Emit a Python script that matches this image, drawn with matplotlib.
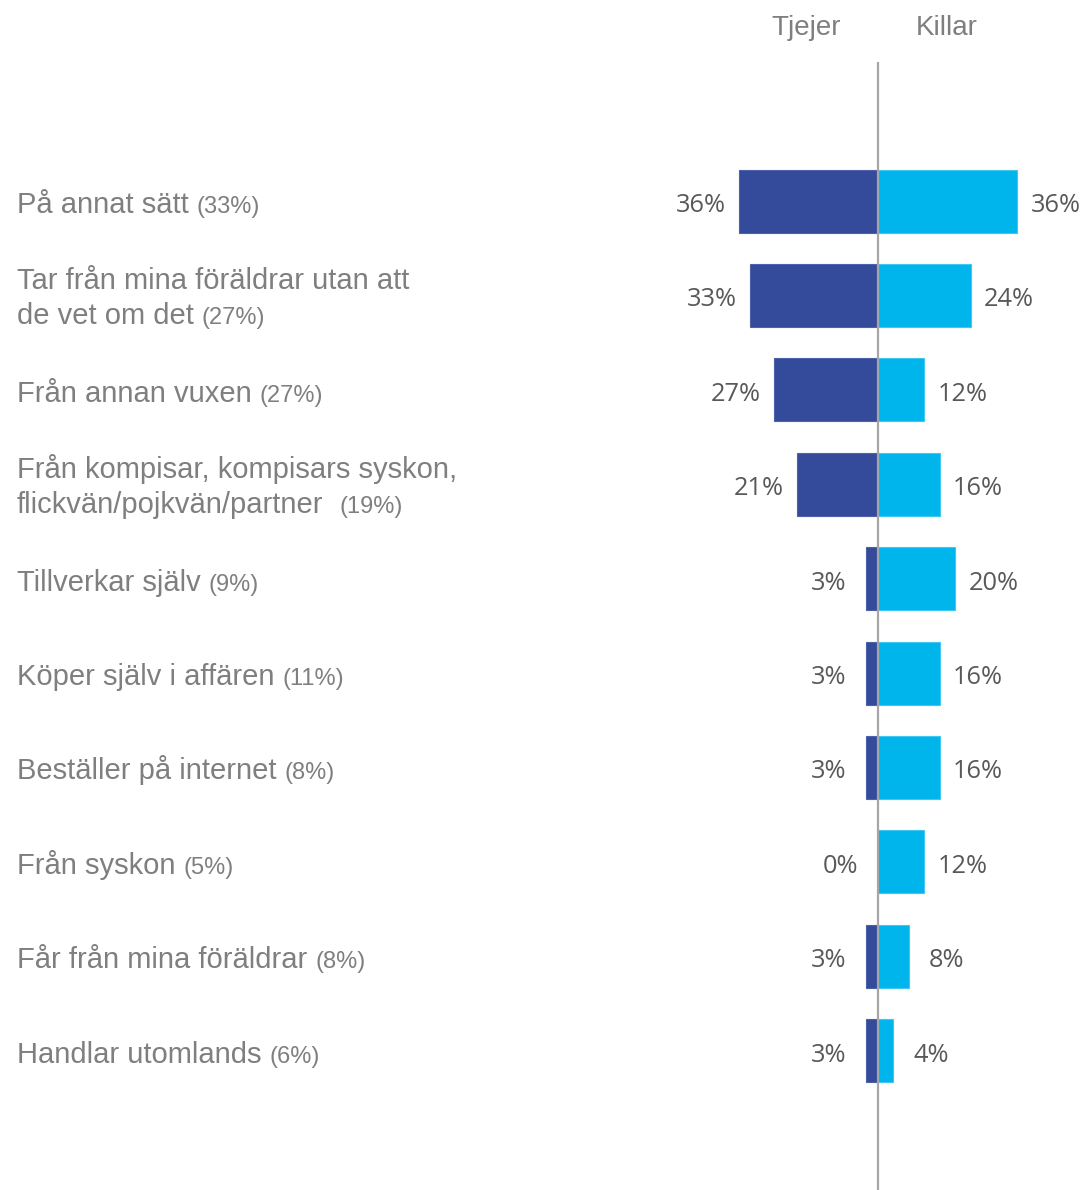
import matplotlib.pyplot as plt
from matplotlib import transforms

# data
categories = [
    "På annat sätt",
    "Tar från mina föräldrar utan att\nde vet om det",
    "Från annan vuxen",
    "Från kompisar, kompisars syskon,\nflickvän/pojkvän/partner ",
    "Tillverkar själv",
    "Köper själv i affären",
    "Beställer på internet",
    "Från syskon",
    "Får från mina föräldrar",
    "Handlar utomlands",
]
totals = ["(33%)", "(27%)", "(27%)", "(19%)", "(9%)", "(11%)", "(8%)", "(5%)", "(8%)", "(6%)"]
tjejer = [36, 33, 27, 21, 3, 3, 3, 0, 3, 3]
killar = [36, 24, 12, 16, 20, 16, 16, 12, 8, 4]
series_names = ["Tjejer", "Killar"]

W, H = 1086, 1190
DPI = 100
PX_PER_PCT = 3.87
CENTER_X = 878
ROW0_Y = 201
ROW_STEP = 94.4

dark = "#344A9A"
light = "#00B4EC"
gray_txt = "#7F7F7F"
val_txt = "#595959"

fig = plt.figure(figsize=(W / DPI, H / DPI), dpi=DPI)
ax_left = 560
ax = fig.add_axes([ax_left / W, 0, (W - ax_left) / W, 1])
ax.set_xlim(-(CENTER_X - ax_left) / PX_PER_PCT, (W - CENTER_X) / PX_PER_PCT)
ax.set_ylim((H - ROW0_Y) / ROW_STEP, -ROW0_Y / ROW_STEP)
ax.axis("off")

rows = list(range(len(categories)))
bh = 63 / ROW_STEP
ax.barh(rows, [-v for v in tjejer], height=bh, color=dark, edgecolor="#4d62ab", linewidth=0.8)
ax.barh(rows, killar, height=bh, color=light, edgecolor="#40c8f2", linewidth=0.8)

# center line
ax.plot([0, 0], [-(ROW0_Y - 62) / ROW_STEP, (H - ROW0_Y) / ROW_STEP],
        color="#A6A6A6", lw=1.6, solid_capstyle="butt", zorder=3)

def px_off(dx, dy):
    return transforms.ScaledTranslation(dx / DPI, -dy / DPI, fig.dpi_scale_trans)

lab_off = 38 / PX_PER_PCT
for i in rows:
    ax.text(-tjejer[i] - lab_off, i, f"{tjejer[i]}%", ha="center", va="baseline",
            fontsize=18.3, family="Open Sans", color=val_txt,
            transform=ax.transData + px_off(0, 11))
    ax.text(killar[i] + lab_off, i, f"{killar[i]}%", ha="center", va="baseline",
            fontsize=18.3, family="Open Sans", color=val_txt,
            transform=ax.transData + px_off(0, 11))

# category labels
fig.canvas.draw()
renderer = fig.canvas.get_renderer()
blend = transforms.blended_transform_factory(fig.transFigure, ax.transData)
for i, (cat, tot) in enumerate(zip(categories, totals)):
    lines = cat.split("\n")
    if len(lines) == 1:
        offs = [12]
    else:
        offs = [-6, 29]
    t = None
    for line, dy in zip(lines, offs):
        t = fig.text(17 / W, i, line.rstrip(), ha="left", va="baseline", fontsize=21,
                     family="Liberation Sans", color=gray_txt,
                     transform=blend + px_off(0, dy))
    ext = t.get_window_extent(renderer)
    gap = 16 if lines[-1].endswith(" ") else 8
    fig.text((ext.x1 + gap) / W, i, tot, ha="left", va="baseline", fontsize=17,
             family="Liberation Sans", color=gray_txt,
             transform=blend + px_off(0, offs[-1]))

# header
for name, cx in zip(series_names, [806, 947]):
    fig.text(cx / W, 1 - 35 / H, name, ha="center", va="baseline", fontsize=20,
             family="Liberation Sans", color=gray_txt)

fig.savefig("out.png", dpi=DPI)
